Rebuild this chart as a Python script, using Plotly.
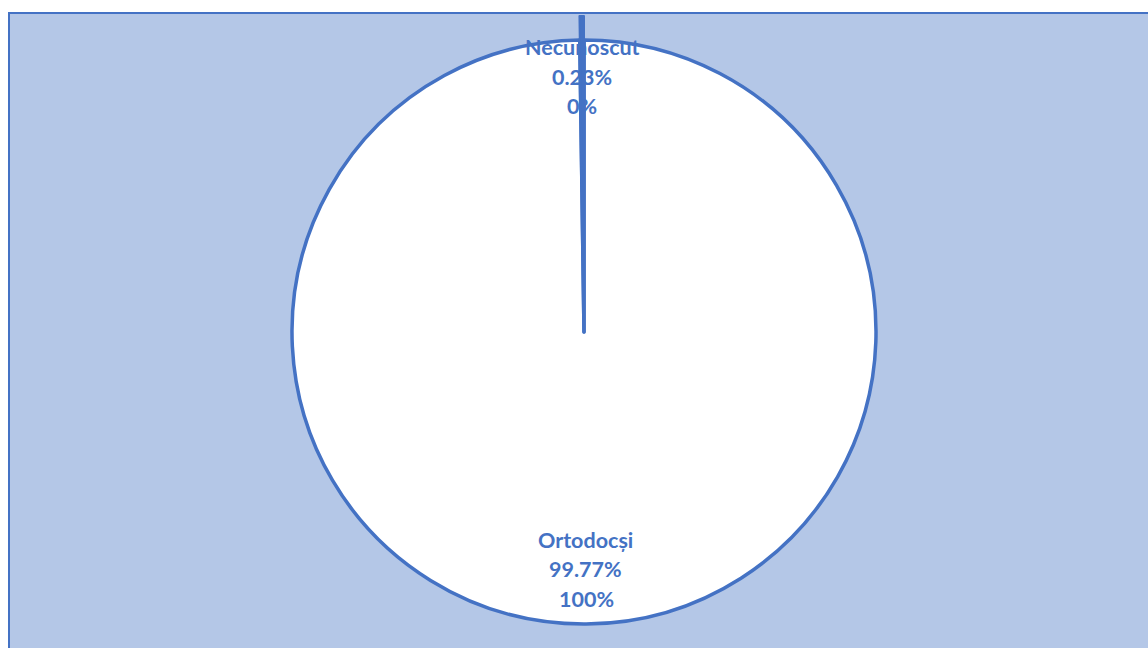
import plotly.graph_objects as go

categories = ["Ortodocși", "Necunoscut"]
values = [99.77, 0.23]
rounded_labels = ["100%", "0%"]

W, H = 1148, 648
BLUE = "#4472C4"
BG = "#B4C7E7"

def px_x(x):
    return x / W

def px_y(y):
    return 1 - y / H

fig = go.Figure()

# main pie (radius ~292, centre 584,332)
fig.add_trace(go.Pie(
    labels=categories, values=values, sort=False, direction="clockwise", rotation=0,
    marker=dict(colors=["white", BLUE], line=dict(color=BLUE, width=3.5)),
    textinfo="none", hoverinfo="label+percent", showlegend=False,
    domain=dict(x=[px_x(292), px_x(876)], y=[px_y(624), px_y(40)]),
))
# overlay for the protruding small slice
fig.add_trace(go.Pie(
    labels=categories, values=values, sort=False, direction="clockwise", rotation=0,
    marker=dict(colors=["rgba(0,0,0,0)", BLUE], line=dict(color=BLUE, width=[0, 2])),
    textinfo="none", hoverinfo="skip", showlegend=False,
    domain=dict(x=[px_x(268), px_x(900)], y=[px_y(648), px_y(16)]),
))

label_pos = {
    "Ortodocși": [(585, 540), (585, 569), (586, 599)],
    "Necunoscut": [(582, 47), (582, 77), (582, 106)],
}
annotations = []
for cat, val, rnd in zip(categories, values, rounded_labels):
    lines = [cat, f"{val:.2f}%", rnd]
    for (x, y), t in zip(label_pos[cat], lines):
        annotations.append(dict(
            x=px_x(x), y=px_y(y), xref="paper", yref="paper",
            text=t, showarrow=False, xanchor="center", yanchor="middle",
            font=dict(family="Lato", size=21.5, color=BLUE, weight="bold"),
        ))

fig.update_layout(
    width=W, height=H,
    margin=dict(l=0, r=0, t=0, b=0),
    paper_bgcolor="white", plot_bgcolor="white",
    shapes=[dict(type="rect", xref="paper", yref="paper", layer="below",
                 x0=px_x(9), x1=1.02, y0=-0.02, y1=px_y(13),
                 fillcolor=BG, line=dict(color=BLUE, width=2))],
    annotations=annotations,
)

fig.write_html("out.html", config={"displayModeBar": False},
               post_script="document.body.style.margin='0';document.body.style.overflow='hidden';")
